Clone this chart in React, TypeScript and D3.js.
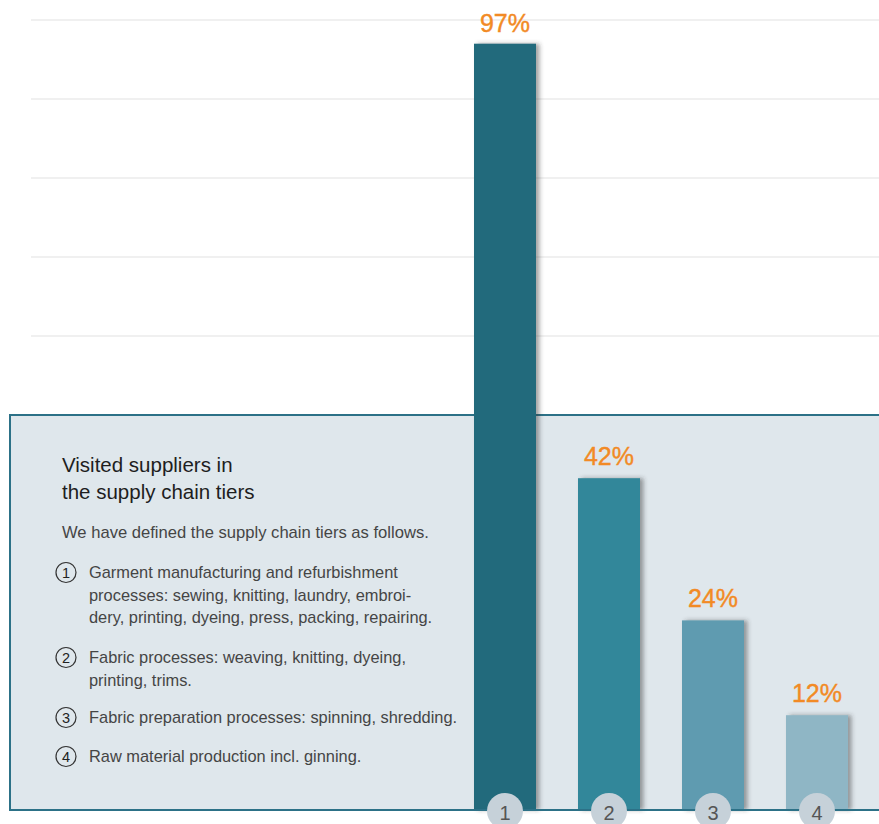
import React from "react";
import * as d3 from "d3";

const tiers = ["1", "2", "3", "4"];
const shares = [97, 42, 24, 12];
const barColors = ["#246a7b", "#33879a", "#5f9bb0", "#8fb6c5"];
const gridTicks = [60, 70, 80, 90, 100];

const titleLines = ["Visited suppliers in", "the supply chain tiers"];
const introText = "We have defined the supply chain tiers as follows.";
const tierDescriptions = [
  ["Garment manufacturing and refurbishment", "processes: sewing, knitting, laundry, embroi-", "dery, printing, dyeing, press, packing, repairing."],
  ["Fabric processes: weaving, knitting, dyeing,", "printing, trims."],
  ["Fabric preparation processes: spinning, shredding."],
  ["Raw material production incl. ginning."],
];

const W = 879;
const H = 824;

export default function App() {
  const x = d3.scaleBand<string>().domain(tiers).range([453, 869]).paddingInner(0.404).paddingOuter(0.202);
  const y = d3.scaleLinear().domain([0, 100]).range([810, 20]);
  const base = y(0);

  const font = "'Liberation Sans', Arial, sans-serif";

  const itemStarts = [578, 663, 723, 762];
  const lineGap = 22.5;

  return (
    <svg width={W} height={H} style={{ position: "absolute", left: 0, top: 0, display: "block" }} fontFamily={font}>
      <defs>
        <filter id="shadow" x="-20%" y="-5%" width="150%" height="110%">
          <feDropShadow dx="3.5" dy="0" stdDeviation="2" floodColor="#333" floodOpacity="0.45" />
        </filter>
      </defs>
      <rect x={0} y={0} width={W} height={H} fill="#ffffff" />
      {gridTicks.map((t) => (
        <line key={t} x1={31} x2={W} y1={y(t)} y2={y(t)} stroke="#ebebeb" strokeWidth={1.5} />
      ))}
      <rect x={10} y={y(50)} width={W + 20} height={base - y(50)} fill="#dfe7ec" stroke="#2c7187" strokeWidth={2} />

      {titleLines.map((l, i) => (
        <text key={l} x={62} y={472 + i * 27} fontSize={20.5} fill="#1e1e1e">
          {l}
        </text>
      ))}
      <text x={62} y={538} fontSize={16.6} fill="#454545">
        {introText}
      </text>
      {tierDescriptions.map((lines, i) => (
        <g key={i}>
          <circle cx={66} cy={itemStarts[i] - 5.5} r={10} fill="none" stroke="#333" strokeWidth={1.2} />
          <text x={66} y={itemStarts[i]} fontSize={14.5} textAnchor="middle" fill="#222">
            {tiers[i]}
          </text>
          {lines.map((l, j) => (
            <text key={j} x={89} y={itemStarts[i] + j * lineGap} fontSize={16.4} fill="#454545">
              {l}
            </text>
          ))}
        </g>
      ))}

      {tiers.map((t, i) => (
        <rect
          key={t}
          x={x(t)}
          y={y(shares[i])}
          width={x.bandwidth()}
          height={base - y(shares[i])}
          fill={barColors[i]}
          filter="url(#shadow)"
        />
      ))}
      {tiers.map((t, i) => (
        <text
          key={"l" + t}
          x={(x(t) as number) + x.bandwidth() / 2}
          y={Math.max(y(shares[i]) - 13, 32)}
          textAnchor="middle"
          fontSize={25}
          fill="#f28a25"
          stroke="#f28a25"
          strokeWidth={0.4}
        >
          {shares[i]}%
        </text>
      ))}
      <line x1={10} x2={W} y1={base} y2={base} stroke="#2c7187" strokeWidth={2} />
      {tiers.map((t) => (
        <g key={"c" + t}>
          <circle cx={(x(t) as number) + x.bandwidth() / 2} cy={811} r={18} fill="#c6d1d9" />
          <text x={(x(t) as number) + x.bandwidth() / 2} y={820} textAnchor="middle" fontSize={20} fill="#555">
            {t}
          </text>
        </g>
      ))}
    </svg>
  );
}
